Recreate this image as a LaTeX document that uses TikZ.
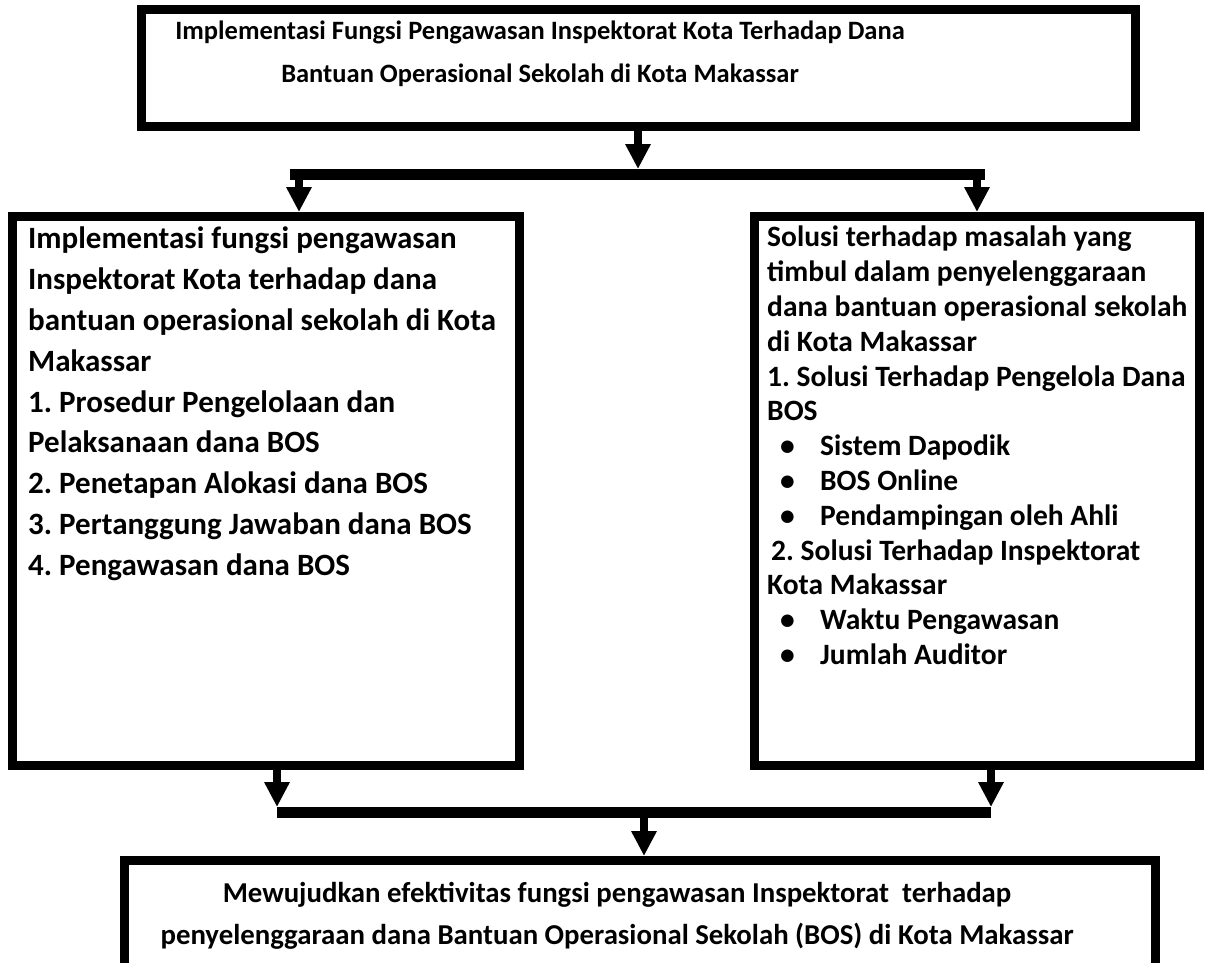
\documentclass[tikz,border=0pt]{standalone}
\usepackage{fontspec}
\setmainfont{Carlito}
\usetikzlibrary{arrows.meta,positioning,calc}
\frenchspacing

\begin{document}
\begin{tikzpicture}[x=1pt, y=-1pt,
    boxnode/.style={draw, line width=9pt, inner sep=0pt, anchor=north west},
    txt/.style={inner sep=0pt, align=left},
    arr/.style={line width=8pt, -{Triangle[width=24pt,length=25pt]}},
    barline/.style={line width=11pt}]
  \useasboundingbox (0,0) rectangle (1213,962);

  % boxes
  \node[boxnode, minimum width=994pt, minimum height=117pt] (tbox) at (137,5) {};
  \node[boxnode, minimum width=507pt, minimum height=549pt] (lbox) at (8,212) {};
  \node[boxnode, minimum width=445pt, minimum height=549pt] (rbox) at (750,212) {};
  \node[boxnode, minimum width=1031pt, minimum height=130pt] (bbox) at (120,856) {};

  % texts
  \node[txt, align=center, font=\fontsize{26.5}{43}\selectfont\bfseries] (ttxt) at (540,54)
    {Implementasi Fungsi Pengawasan Inspektorat Kota Terhadap Dana\\
     Bantuan Operasional Sekolah di Kota Makassar};
  \node[txt, anchor=north west, font=\fontsize{31}{40.8}\selectfont\bfseries] (ltxt) at (28,227)
    {Implementasi fungsi pengawasan\\
     Inspektorat Kota terhadap dana\\
     bantuan operasional sekolah di Kota\\
     Makassar\\
     1. Prosedur Pengelolaan dan\\
     Pelaksanaan dana BOS\\
     2. Penetapan Alokasi dana BOS\\
     3. Pertanggung Jawaban dana BOS\\
     4. Pengawasan dana BOS};
  \node[txt, anchor=north west, font=\fontsize{29.5}{34.8}\selectfont\bfseries] (rtxt) at (767,226)
    {Solusi terhadap masalah yang\\
     timbul dalam penyelenggaraan\\
     dana bantuan operasional sekolah\\
     di Kota Makassar\\
     1. Solusi Terhadap Pengelola Dana\\
     BOS\\
     \makebox[53pt][l]{\hspace{13pt}•}Sistem Dapodik\\
     \makebox[53pt][l]{\hspace{13pt}•}BOS Online\\
     \makebox[53pt][l]{\hspace{13pt}•}Pendampingan oleh Ahli\\
     \hspace{4pt}2. Solusi Terhadap Inspektorat\\
     Kota Makassar\\
     \makebox[53pt][l]{\hspace{13pt}•}Waktu Pengawasan\\
     \makebox[53pt][l]{\hspace{13pt}•}Jumlah Auditor};
  \node[txt, align=center, font=\fontsize{28.8}{42}\selectfont\bfseries] (btxt) at (617,916)
    {Mewujudkan efektivitas fungsi pengawasan Inspektorat\ \ terhadap\\
     penyelenggaraan dana Bantuan Operasional Sekolah (BOS) di Kota Makassar};

  % junctions
  \coordinate (jt) at (638,174.5);
  \coordinate (jtl) at (299,174.5);
  \coordinate (jtr) at (977,174.5);
  \coordinate (jb) at (644,812.5);
  \coordinate (jbl) at (277,812.5);
  \coordinate (jbr) at (991,812.5);

  % connectors
  \draw[barline] ([xshift=-9pt]jtl) -- ([xshift=8pt]jtr);
  \draw[arr] (tbox.south -| jt) -- ([yshift=5.5pt]jt);
  \draw[arr] ([yshift=-5.5pt]jtl) -- (lbox.north -| jtl);
  \draw[arr] ([yshift=-5.5pt]jtr) -- (rbox.north -| jtr);
  \draw[barline] (jbl) -- (jbr);
  \draw[arr] (lbox.south -| jbl) -- ([yshift=5.5pt]jbl);
  \draw[arr] (rbox.south -| jbr) -- ([yshift=5.5pt]jbr);
  \draw[arr] ([yshift=-5.5pt]jb) -- (bbox.north -| jb);
\end{tikzpicture}
\end{document}
